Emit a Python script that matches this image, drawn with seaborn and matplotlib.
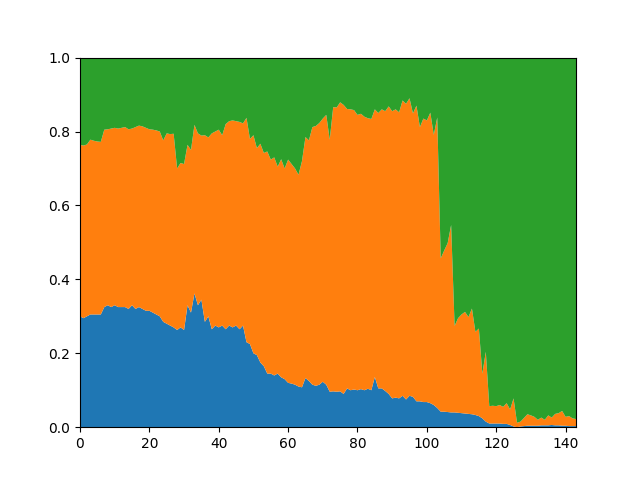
import numpy as np
import matplotlib
matplotlib.use('Agg')
import matplotlib.pyplot as plt
import seaborn as sns

# share of the bottom (blue) layer at each step
blue = [
    0.300, 0.295, 0.300, 0.305, 0.305, 0.305, 0.305, 0.325, 0.330, 0.325,
    0.330, 0.325, 0.325, 0.325, 0.320, 0.330, 0.320, 0.325, 0.320, 0.315,
    0.315, 0.310, 0.305, 0.300, 0.285, 0.280, 0.275, 0.270, 0.263, 0.270,
    0.263, 0.330, 0.310, 0.362, 0.330, 0.345, 0.285, 0.300, 0.265, 0.275,
    0.270, 0.275, 0.265, 0.275, 0.270, 0.275, 0.265, 0.275, 0.230, 0.225,
    0.200, 0.195, 0.175, 0.165, 0.145, 0.145, 0.140, 0.145, 0.135, 0.130,
    0.120, 0.118, 0.115, 0.110, 0.108, 0.133, 0.125, 0.115, 0.112, 0.115,
    0.123, 0.115, 0.096, 0.097, 0.096, 0.097, 0.090, 0.105, 0.100, 0.102,
    0.100, 0.103, 0.100, 0.104, 0.100, 0.136, 0.105, 0.105, 0.098, 0.090,
    0.078, 0.080, 0.078, 0.085, 0.075, 0.085, 0.082, 0.070, 0.070, 0.068,
    0.068, 0.065, 0.060, 0.052, 0.042, 0.042, 0.041, 0.040, 0.040, 0.039,
    0.038, 0.037, 0.036, 0.035, 0.033, 0.030, 0.024, 0.015, 0.010, 0.010,
    0.010, 0.010, 0.009, 0.009, 0.006, 0.002, 0.000, 0.002, 0.003, 0.004,
    0.004, 0.004, 0.004, 0.005, 0.005, 0.005, 0.006, 0.005, 0.005, 0.004,
    0.004, 0.003, 0.003, 0.003,
]

# upper edge of the orange layer (blue + orange)
orange_top = [
    0.764, 0.762, 0.765, 0.778, 0.775, 0.773, 0.772, 0.805, 0.806, 0.808,
    0.810, 0.808, 0.810, 0.812, 0.806, 0.808, 0.812, 0.816, 0.814, 0.810,
    0.806, 0.805, 0.803, 0.800, 0.776, 0.795, 0.793, 0.794, 0.700, 0.715,
    0.712, 0.764, 0.750, 0.818, 0.795, 0.789, 0.790, 0.784, 0.795, 0.800,
    0.805, 0.790, 0.820, 0.828, 0.830, 0.828, 0.826, 0.822, 0.837, 0.780,
    0.790, 0.755, 0.767, 0.742, 0.746, 0.724, 0.730, 0.705, 0.725, 0.700,
    0.724, 0.712, 0.700, 0.683, 0.720, 0.785, 0.776, 0.812, 0.815, 0.823,
    0.835, 0.845, 0.778, 0.866, 0.865, 0.879, 0.872, 0.861, 0.860, 0.858,
    0.845, 0.848, 0.840, 0.836, 0.834, 0.860, 0.850, 0.860, 0.855, 0.868,
    0.855, 0.860, 0.852, 0.884, 0.875, 0.890, 0.849, 0.870, 0.812, 0.835,
    0.830, 0.851, 0.791, 0.838, 0.457, 0.478, 0.498, 0.547, 0.274, 0.295,
    0.305, 0.312, 0.298, 0.321, 0.258, 0.267, 0.145, 0.204, 0.057, 0.058,
    0.057, 0.060, 0.055, 0.065, 0.048, 0.078, 0.012, 0.015, 0.025, 0.035,
    0.032, 0.028, 0.020, 0.026, 0.020, 0.032, 0.026, 0.036, 0.038, 0.044,
    0.028, 0.030, 0.024, 0.022,
]

steps = np.arange(len(blue))
blue_arr = np.array(blue)
top_arr = np.array(orange_top)
orange = top_arr - blue_arr
green = 1.0 - top_arr

colors = sns.color_palette('tab10', 3)

fig, ax = plt.subplots(figsize=(6.4, 4.8), dpi=100)
ax.stackplot(steps, blue_arr, orange, green, colors=colors)
ax.set_xlim(0, steps[-1])
ax.set_ylim(0, 1)

plt.savefig('out.png', dpi=100)
